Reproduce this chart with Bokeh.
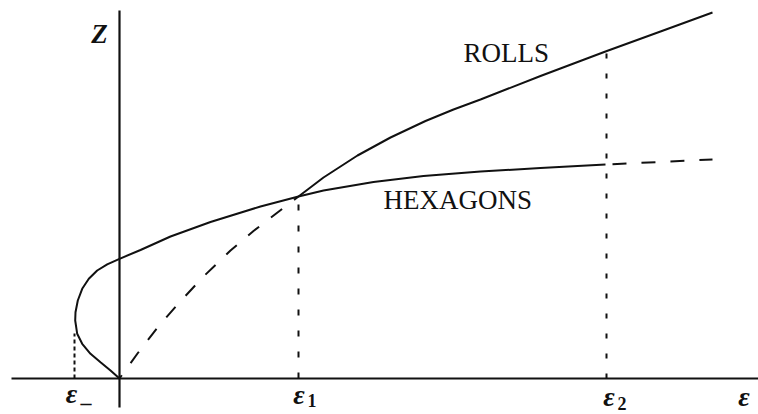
from bokeh.plotting import figure
from bokeh.models import Range1d
from bokeh.embed import file_html
from bokeh.resources import INLINE
from bokeh.core.properties import value

# ---- data (schematic units: epsilon horizontally, Z vertically) ----
# hexagon branch (solid): from origin, around the turning point eps_-, up to eps_2
hex_eps = [0.00, -0.09, -0.19, -0.29, -0.373, -0.423, -0.443, -0.44, -0.417, -0.373,
           -0.307, -0.223, -0.123, 0.00, 0.21, 0.51, 0.91, 1.41, 1.79, 2.04, 2.54,
           3.04, 3.61, 4.21, 4.86]
hex_z = [0.00, 0.08, 0.163, 0.247, 0.347, 0.447, 0.58, 0.663, 0.78, 0.897,
         0.997, 1.08, 1.142, 1.197, 1.285, 1.42, 1.565, 1.72, 1.82, 1.88, 1.965,
         2.025, 2.07, 2.105, 2.14]
# hexagon branch beyond eps_2 (dashed)
hex_dash_eps = [4.86, 5.93]
hex_dash_z = [2.14, 2.19]
# roll branch, unstable part (dashed)
roll_dash_eps = [0.00, 0.18, 0.38, 0.58, 0.84, 1.11, 1.34, 1.58, 1.79]
roll_dash_z = [0.00, 0.25, 0.51, 0.74, 1.02, 1.28, 1.475, 1.66, 1.82]
# roll branch, stable part (solid)
roll_eps = [1.79, 2.04, 2.38, 2.71, 3.06, 3.34, 3.61, 4.21, 4.86, 5.41, 5.93]
roll_z = [1.82, 2.01, 2.23, 2.41, 2.575, 2.69, 2.79, 3.025, 3.27, 3.47, 3.66]

# special points
eps_minus, eps_minus_top = -0.45, 0.45
eps_1, eps_1_top = 1.79, 1.82
eps_2, eps_2_top = 4.87, 3.27

# axes extents
axis_eps = [-1.08, 6.39]
axis_z = [-0.29, 3.68]

ink = "#111111"

p = figure(width=758, height=414, output_backend="svg", toolbar_location=None,
           x_range=Range1d(-1.19, 6.39), y_range=Range1d(-0.36, 3.78),
           x_axis_type=None, y_axis_type=None, min_border=0)
p.outline_line_color = None
p.background_fill_color = "white"
p.border_fill_color = "white"

# axes
p.line(axis_eps, [0, 0], line_color=ink, line_width=2.2)
p.line([0, 0], axis_z, line_color=ink, line_width=2.2)

# vertical markers
p.line([eps_minus, eps_minus], [0, eps_minus_top], line_color=ink, line_width=2,
       line_dash="4 3")
p.line([eps_1, eps_1], [0, eps_1_top], line_color=ink, line_width=2, line_dash="6 15")
p.line([eps_2, eps_2], [0, eps_2_top], line_color=ink, line_width=2, line_dash="5 15")

# branches
p.line(hex_eps, hex_z, line_color=ink, line_width=2)
p.line(hex_dash_eps, hex_dash_z, line_color=ink, line_width=2, line_dash="14 15",
       line_dash_offset=22)
p.line(roll_dash_eps, roll_dash_z, line_color=ink, line_width=2, line_dash="14 15",
       line_dash_offset=10)
p.line(roll_eps, roll_z, line_color=ink, line_width=2)

serif = value("Liberation Serif")

# curve names
p.text(x=[3.44], y=[3.255], text=["ROLLS"], text_font=serif, text_font_size="27px",
       text_color=ink, text_align="left", text_baseline="alphabetic")
p.text(x=[2.64], y=[1.785], text=["HEXAGONS"], text_font=serif, text_font_size="27px",
       text_color=ink, text_align="left", text_baseline="alphabetic")

# axis labels
p.text(x=[-0.20], y=[3.445], text=["Z"], text_font=serif, text_font_size="27px",
       text_font_style="bold italic", text_color=ink, text_align="center",
       text_baseline="alphabetic")
p.text(x=[-0.48, 1.795, 4.895, 6.245], y=[-0.145, -0.155, -0.175, -0.175],
       text=["ε", "ε", "ε", "ε"], text_font=serif, text_font_size="28px",
       text_font_style="bold italic", text_color=ink, text_align="center",
       text_baseline="alphabetic")
# subscripts
p.text(x=[1.88, 4.98], y=[-0.215, -0.245], text=["1", "2"], text_font=serif,
       text_font_size="18px", text_font_style="bold", text_color=ink,
       text_align="left", text_baseline="alphabetic")
p.text(x=[-0.39], y=[-0.24], text=["–"], text_font=serif,
       text_font_size="22px", text_font_style="bold", text_color=ink,
       text_align="left", text_baseline="alphabetic")

open("out.html", "w").write(file_html(p, INLINE))
